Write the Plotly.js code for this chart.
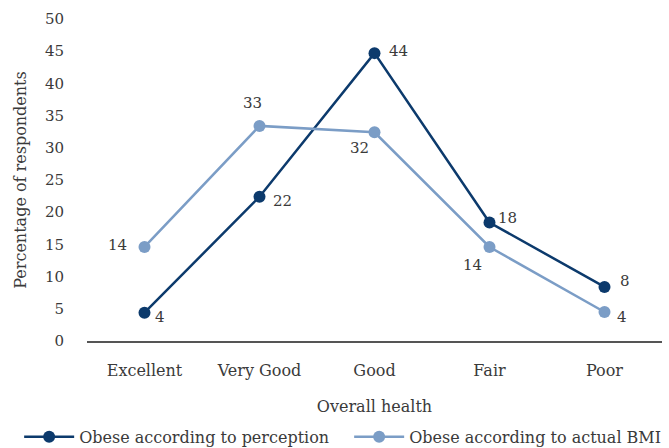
<!DOCTYPE html>
<html>
<head>
<meta charset="utf-8">
<script src="https://cdn.plot.ly/plotly-3.0.1.min.js"></script>
<style>html,body{margin:0;padding:0;background:#fff;}#chart{width:669px;height:448px;}</style>
</head>
<body>
<div id="chart"></div>
<script>
const categories = ["Excellent", "Very Good", "Good", "Fair", "Poor"];
const perception = [4.4, 22.4, 44.7, 18.4, 8.4];
const perceptionLabels = ["4", "22", "44", "18", "8"];
const actualBMI = [14.6, 33.4, 32.4, 14.6, 4.5];
const actualBMILabels = ["14", "33", "32", "14", "4"];
const yTicks = [0, 5, 10, 15, 20, 25, 30, 35, 40, 45, 50];

// label offsets (style only, px)
const perceptionShift = [[15, -4], [23, -4], [24, 2], [18, 5], [20, 6]];
const actualShift = [[-27, 2], [-7, 23], [-15, -16], [-17, -18], [17, -5]];

const FONT = "DejaVu Serif, Liberation Serif, serif";
const TXT = "#3a3a3a";
const DARK = "#0c3a6c";
const LIGHT = "#7b9dc6";

const traces = [
  {
    x: categories, y: perception,
    name: "Obese according to perception",
    type: "scatter", mode: "lines+markers",
    line: {color: DARK, width: 2.5},
    marker: {color: DARK, size: 12},
    cliponaxis: false
  },
  {
    x: categories, y: actualBMI,
    name: "Obese according to actual BMI",
    type: "scatter", mode: "lines+markers",
    line: {color: LIGHT, width: 2.5},
    marker: {color: LIGHT, size: 12},
    cliponaxis: false
  }
];

const annotations = [];
function addLabels(vals, labels, shifts) {
  vals.forEach((v, i) => {
    annotations.push({
      x: categories[i], y: v, xref: "x", yref: "y",
      text: labels[i], showarrow: false,
      xanchor: "center", yanchor: "middle",
      xshift: shifts[i][0], yshift: shifts[i][1],
      font: {family: FONT, size: 15, color: TXT}
    });
  });
}
addLabels(perception, perceptionLabels, perceptionShift);
addLabels(actualBMI, actualBMILabels, actualShift);

const layout = {
  width: 669, height: 448,
  margin: {l: 87, r: 7, t: 19, b: 107, autoexpand: false},
  paper_bgcolor: "#fff", plot_bgcolor: "#fff",
  font: {family: FONT, size: 15, color: TXT},
  showlegend: true,
  annotations: annotations,
  legend: {
    orientation: "h", x: -0.118, xanchor: "left", y: -0.298, yanchor: "middle",
    font: {family: FONT, size: 16, color: TXT}, itemwidth: 50, tracegroupgap: 0,
    entrywidth: 265, entrywidthmode: "pixels"
  },
  xaxis: {
    type: "category", range: [-0.5, 4.5],
    showline: true, linecolor: "#555", linewidth: 1.5,
    showgrid: false, zeroline: false, ticks: "",
    ticklabelstandoff: 14,
    tickfont: {family: FONT, size: 16, color: TXT},
    title: {text: "Overall health", font: {family: FONT, size: 16, color: TXT}, standoff: 22}
  },
  yaxis: {
    range: [0, 50], tickvals: yTicks, ticktext: yTicks.map(String),
    showline: false, showgrid: false, zeroline: false, ticks: "",
    ticklabelstandoff: 22,
    tickfont: {family: FONT, size: 15, color: TXT},
    title: {text: "Percentage of respondents", font: {family: FONT, size: 16, color: TXT}, standoff: 14}
  }
};

Plotly.newPlot("chart", traces, layout, {displayModeBar: false, staticPlot: true});
</script>
</body>
</html>
